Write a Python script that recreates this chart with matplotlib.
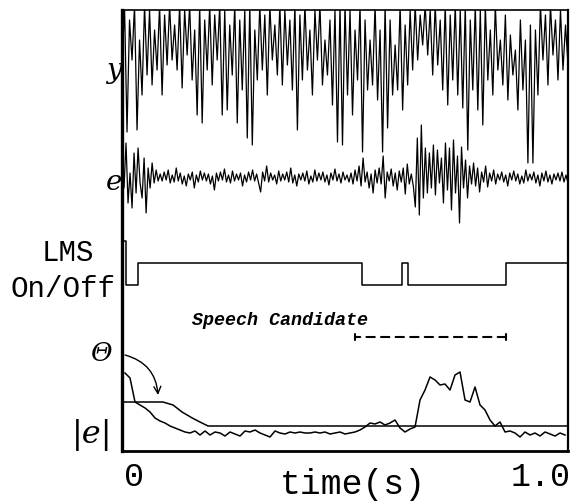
import numpy as np
import matplotlib
matplotlib.use("Agg")
import matplotlib.pyplot as plt

# ---- data (arbitrary amplitude units, time in seconds) ----
T_START, T_END = -0.0295, 1.0663

# y : microphone signal (relative amplitude)
y_vals = [20,85,-42,70,30,85,-40,50,-5,85,15,80,5,60,20,
          85,-5,75,25,85,30,65,20,85,2,80,35,85,10,60,-25,85,-33,70,20,85,5,75,30,85,-25,80,-20,65,15,
          85,-33,70,0,80,-48,85,-55,60,10,85,20,75,-5,85,30,65,15,85,5,80,25,70,0,85,-40,75,10,85,20,60,-5,80,30,85,5,50,15,70,-15,80,-52,85,-55,
          85,-5,80,-25,60,10,85,-62,70,0,50,5,85,-10,60,-62,85,-38,70,-5,45,0,85,-20,65,5,80,20,85,30,75,45,85,35,80,15,85,25,70,0,85,-15,75,10,85,-5,
          80,-18,85,-60,70,0,85,-20,80,-35,85,10,60,-5,85,20,50,5,75,-10,55,15,40,-20,70,0,50,-73,65,-73,60,-5,85,30,75,5,85,35,70,10,80,20,65,25]

# e : LMS error signal (relative amplitude)
e_vals = [20,-10,35,-25,5,-30,25,-15,30,-5,-20,20,-35,10,-10,15,-5,8,-3,
          4,-3,6,-2,8,-5,3,-4,10,-3,5,-6,2,-8,4,-2,6,-10,3,-4,
          7,-2,5,-3,4,-6,2,-12,5,-3,6,-2,9,-4,3,-5,7,-3,4,-2,
          5,-8,3,-4,6,-2,8,-3,4,-5,-14,6,-3,12,-4,5,-2,3,-6,7,
          -3,4,-2,6,-4,10,-5,3,-8,4,-2,5,-3,7,-6,2,-4,8,-3,5,
          -2,6,-4,3,-7,5,-2,9,-3,4,-5,6,-2,3,-4,
          5,-6,8,-3,12,-8,20,-4,6,-10,4,-15,8,-5,10,-6,22,-20,6,-3,
          9,-8,5,-12,7,-4,10,-16,14,-6,
          4,-8,-29,40,-37,53,-20,30,-15,25,-10,33,-17,28,-5,20,-25,35,-12,30,
          -32,38,-15,22,-45,31,-10,18,-20,12,-6,15,-8,10,-14,6,-4,12,-9,5,
          -3,8,-6,4,-2,
          6,-4,3,-8,5,-2,7,-3,4,-6,2,-5,8,-3,4,-2,6,-5,3,-8,5,-3,7,-4,3,-6,4,-2,5,-3,6,-4,3,-5]

# LMS On/Off state (0 = off, 1 = on, 2 = initial)
lms_times = [-0.027, -0.020, 0.010, 0.560, 0.658, 0.673, 0.914, 1.066]
lms_state = [2, 0, 1, 0, 1, 0, 1, 1]

# Threshold Theta
theta_times = [-0.025, 0.071, 0.096, 0.118, 0.143, 0.162, 0.182, 1.066]
theta_vals = [49, 49, 46, 39, 33, 29, 25, 25]

# |e| smoothed magnitude
abs_e_vals = [78,73,49,46,43,39,33,30,28,25,23,21,19,18,20,16,20,16,19,18,15,19,17,15,20,19,21,18,16,14,
              20,18,17,19,18,19,18,18,19,18,19,17,18,19,17,18,19,21,24,28,27,29,26,28,31,23,19,22,24,51,
              61,74,71,66,67,61,76,79,51,49,64,46,41,31,25,29,19,20,18,14,19,16,18,15,19,17,15,18,16]
abs_e_t0, abs_e_t1 = -0.0221, 1.0590

speech_start, speech_end = 0.543, 0.914

xtick_pos = [0.0, 1.0]
xtick_labels = ["0", "1.0"]

# ---- layout offsets (vertical stacking) ----
Y_OFF, E_OFF, LMS_LOW, LMS_STEP = 361, 273, 166, 22

fig = plt.figure(figsize=(5.73, 5.04), dpi=100)
ax = fig.add_axes([122/573, 1-451/504, 446/573, 441/504])
ax.set_xlim(T_START, T_END)
ax.set_ylim(0, 441)

ty = np.linspace(T_START, T_END, len(y_vals))
ax.plot(ty, Y_OFF + np.array(y_vals), color="black", lw=0.9)
te = np.linspace(T_START, T_END, len(e_vals))
ax.plot(te, E_OFF + np.array(e_vals), color="black", lw=0.9)

ax.step(lms_times, LMS_LOW + LMS_STEP*np.array(lms_state), where="post", color="black", lw=1.1)

ax.plot(theta_times, theta_vals, color="black", lw=1.1)
ta = np.linspace(abs_e_t0, abs_e_t1, len(abs_e_vals))
ax.plot(ta, abs_e_vals, color="black", lw=1.1)

# speech candidate marker
ax.annotate("", xy=(speech_start, 114), xytext=(speech_end, 114),
            arrowprops=dict(arrowstyle="|-|,widthA=0.25,widthB=0.25", color="black",
                            lw=1.5, linestyle=(0, (4, 3)), shrinkA=0, shrinkB=0))
ax.text(0.157, 0.297, "Speech Candidate", transform=ax.transAxes, ha="left", va="center",
        family="Liberation Mono", style="italic", weight="bold", fontsize=13.2)

# curved arrow from Theta label
ax.annotate("", xy=(0.059, 56), xytext=(-0.022, 96),
            arrowprops=dict(arrowstyle="->,head_length=0.5,head_width=0.25", color="black",
                            lw=1.0, connectionstyle="arc3,rad=-0.35", shrinkA=0, shrinkB=0))

# spines
for side, w in [("left", 2.4), ("bottom", 2.0), ("right", 1.6), ("top", 1.2)]:
    ax.spines[side].set_linewidth(w)
ax.set_yticks([])
ax.set_xticks(xtick_pos)
ax.set_xticklabels(xtick_labels, family="Liberation Mono", fontsize=24)
ax.tick_params(axis="x", length=0, pad=8)

# left labels
ax.text(-0.018, 0.862, "y", transform=ax.transAxes, ha="center", va="center",
        family="DejaVu Serif", style="italic", fontsize=20)
ax.text(-0.018, 0.608, "e", transform=ax.transAxes, ha="center", va="center",
        family="DejaVu Serif", style="italic", fontsize=20)
ax.text(-0.122, 0.449, "LMS", transform=ax.transAxes, ha="center", va="center",
        family="Liberation Mono", fontsize=21)
ax.text(-0.132, 0.367, "On/Off", transform=ax.transAxes, ha="center", va="center",
        family="Liberation Mono", fontsize=21)
ax.text(-0.045, 0.220, "Θ", transform=ax.transAxes, ha="center", va="center",
        family="DejaVu Serif", style="italic", fontsize=19)
ax.text(-0.067, 0.036, "|e|", transform=ax.transAxes, ha="center", va="center",
        family="DejaVu Serif", style="italic", fontsize=23)
ax.text(0.518, -0.077, "time(s)", transform=ax.transAxes, ha="center", va="center",
        family="Liberation Mono", fontsize=25)

fig.savefig("out.png", dpi=100)
